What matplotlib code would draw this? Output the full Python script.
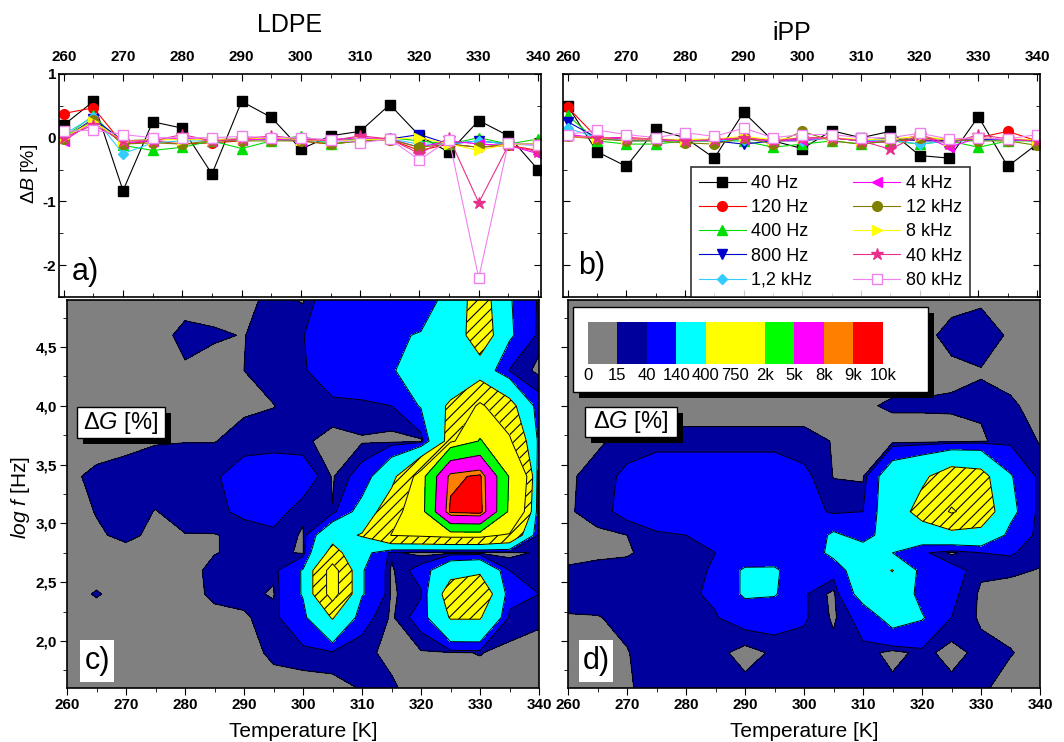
import numpy as np
import matplotlib.pyplot as plt
from matplotlib.patches import Rectangle
from matplotlib.ticker import MultipleLocator

plt.rcParams['font.family'] = ['Liberation Sans', 'DejaVu Sans']
plt.rcParams['mathtext.fontset'] = 'custom'
plt.rcParams['mathtext.rm'] = 'Liberation Sans'
plt.rcParams['mathtext.it'] = 'Liberation Sans:italic'
plt.rcParams['hatch.color'] = 'black'
plt.rcParams['hatch.linewidth'] = 0.8

# temperatures of the dielectric sweeps
temps = [260, 265, 270, 275, 280, 285, 290, 295, 300, 305, 310, 315, 320, 325, 330, 335, 340]
freq_labels = ['40 Hz', '120 Hz', '400 Hz', '800 Hz', '1,2 kHz',
               '4 kHz', '12 kHz', '8 kHz', '40 kHz', '80 kHz']

# delta B [%], one row per frequency
ldpe_dB = [
    [0.2, 0.57, -0.83, 0.25, 0.15, -0.57, 0.57, 0.32, -0.18, 0.03, 0.1, 0.52, 0.03, -0.23, 0.27, 0.03, -0.5],
    [0.38, 0.47, -0.1, -0.05, -0.1, -0.08, -0.05, 0.0, -0.05, -0.1, -0.05, -0.03, -0.2, -0.1, -0.15, -0.12, -0.2],
    [0.0, 0.35, -0.12, -0.2, -0.15, -0.05, -0.17, -0.05, 0.03, -0.1, -0.05, 0.0, -0.05, -0.1, 0.0, -0.1, -0.02],
    [-0.02, 0.3, -0.05, -0.03, -0.02, -0.03, -0.02, -0.02, -0.03, -0.05, -0.02, -0.02, 0.05, -0.1, -0.05, -0.1, -0.1],
    [0.05, 0.33, -0.25, -0.08, -0.05, -0.05, -0.03, -0.03, -0.05, -0.05, -0.05, -0.02, -0.1, -0.1, -0.05, -0.1, -0.12],
    [-0.05, 0.25, -0.08, -0.05, 0.0, -0.05, -0.03, -0.02, -0.05, -0.03, 0.0, -0.02, -0.15, -0.05, -0.1, -0.12, -0.25],
    [-0.02, 0.28, -0.1, -0.08, -0.1, -0.05, -0.05, -0.05, -0.05, -0.1, -0.05, -0.03, -0.15, -0.1, -0.15, -0.1, -0.1],
    [0.0, 0.25, -0.05, -0.03, -0.03, -0.03, -0.02, 0.0, -0.03, -0.05, -0.03, -0.02, 0.0, -0.1, -0.2, -0.1, -0.1],
    [0.0, 0.2, -0.05, -0.05, 0.05, -0.05, -0.02, 0.03, -0.02, -0.05, 0.03, -0.02, -0.25, 0.0, -1.02, -0.12, -0.22],
    [0.1, 0.12, 0.05, 0.0, 0.0, 0.0, 0.02, 0.0, 0.0, -0.03, -0.08, -0.02, -0.35, -0.03, -2.2, -0.08, -0.12],
]
ipp_dB = [
    [0.5, -0.22, -0.45, 0.13, 0.0, -0.32, 0.4, -0.05, -0.17, 0.11, 0.0, 0.1, -0.28, -0.32, 0.33, -0.45, -0.1],
    [0.48, 0.0, 0.0, -0.02, -0.05, -0.05, 0.0, -0.05, -0.05, 0.0, -0.05, -0.05, -0.03, -0.05, 0.0, 0.1, -0.05],
    [0.35, -0.05, -0.1, -0.1, -0.05, -0.05, -0.05, -0.15, -0.1, -0.05, -0.1, -0.05, -0.1, -0.05, -0.15, -0.05, -0.05],
    [0.25, 0.0, -0.05, -0.03, -0.03, -0.05, -0.1, -0.05, -0.03, 0.0, -0.05, 0.0, -0.05, -0.05, -0.03, -0.03, -0.05],
    [0.15, 0.0, -0.05, -0.05, -0.05, -0.05, -0.03, -0.05, -0.05, 0.0, -0.05, -0.03, -0.1, -0.05, -0.05, -0.03, -0.05],
    [0.05, 0.0, 0.0, -0.03, -0.05, -0.03, -0.02, -0.05, -0.03, 0.0, -0.05, -0.08, 0.05, -0.15, 0.0, -0.03, -0.05],
    [0.02, -0.02, -0.05, -0.05, -0.08, -0.1, 0.0, -0.1, 0.1, -0.05, -0.1, -0.05, 0.0, -0.03, -0.05, -0.05, -0.12],
    [0.02, 0.0, -0.02, -0.02, -0.03, -0.02, 0.02, -0.03, 0.0, 0.0, -0.03, -0.02, 0.02, -0.03, 0.0, -0.02, -0.03],
    [0.02, 0.0, -0.02, -0.02, -0.05, -0.03, 0.0, -0.05, 0.0, 0.0, -0.05, -0.18, 0.05, -0.1, 0.05, -0.02, -0.05],
    [0.05, 0.12, 0.05, 0.0, 0.08, 0.02, 0.15, 0.0, 0.05, 0.05, 0.0, 0.0, 0.07, -0.02, 0.0, -0.02, 0.05],
]

# delta G [%] maps, rows = log f from top (4.9) to bottom (1.6)
logf_grid = [4.9, 4.6, 4.3, 4.0, 3.7, 3.4, 3.1, 2.9, 2.75, 2.6, 2.4, 2.2, 1.9, 1.6]
ldpe_dG = [
    [5, 5, 5, 5, 5, 5, 5, 25, 12, 80, 100, 130, 60, 200, 550, 150, 30],
    [5, 5, 5, 5, 22, 18, 14, 30, 38, 90, 110, 120, 150, 180, 600, 160, 25],
    [5, 5, 5, 5, 12, 5, 15, 30, 35, 70, 90, 130, 200, 145, 250, 35, 8],
    [5, 5, 5, 5, 5, 5, 10, 14, 30, 30, 30, 40, 150, 450, 800, 500, 60],
    [5, 5, 8, 13, 14, 14, 25, 30, 20, 5, 12, 5, 5, 500, 2100, 800, 100],
    [10, 20, 25, 30, 35, 35, 60, 60, 70, 12, 60, 300, 900, 8600, 9300, 1800, 15],
    [5, 16, 25, 14, 25, 30, 50, 60, 20, 16, 200, 600, 1000, 9300, 9600, 1500, 10],
    [5, 12, 20, 10, 14, 14, 20, 30, 12, 300, 420, 760, 800, 850, 850, 700, 12],
    [5, 5, 8, 5, 8, 14, 20, 25, 10, 500, 200, 20, 5, 5, 5, 5, 20],
    [5, 5, 5, 5, 5, 22, 25, 20, 150, 900, 150, 10, 60, 300, 350, 40, 30],
    [5, 17, 5, 5, 5, 20, 22, 12, 150, 900, 150, 10, 35, 550, 650, 60, 40],
    [5, 5, 5, 5, 5, 8, 12, 25, 100, 420, 60, 10, 60, 420, 420, 30, 20],
    [5, 5, 5, 5, 5, 5, 5, 20, 25, 30, 20, 10, 12, 12, 16, 8, 5],
    [5, 5, 5, 5, 5, 5, 5, 5, 5, 5, 17, 18, 5, 5, 5, 5, 5],
]
ipp_dG = [
    [5, 5, 5, 5, 5, 5, 5, 5, 5, 5, 5, 5, 5, 8, 12, 5, 5],
    [5, 5, 5, 5, 5, 5, 5, 5, 5, 5, 5, 5, 8, 22, 25, 12, 5],
    [5, 5, 5, 5, 5, 5, 5, 5, 5, 5, 5, 5, 5, 10, 14, 8, 5],
    [5, 5, 5, 5, 5, 5, 5, 5, 5, 5, 12, 18, 18, 18, 18, 18, 8],
    [5, 12, 22, 22, 22, 22, 22, 22, 22, 14, 8, 3, 3, 5, 12, 25, 14],
    [12, 22, 50, 80, 80, 80, 80, 80, 50, 14, 10, 250, 350, 550, 500, 150, 20],
    [12, 25, 55, 90, 90, 90, 90, 90, 70, 30, 40, 250, 500, 780, 600, 180, 15],
    [10, 10, 15, 30, 40, 45, 80, 85, 60, 160, 100, 200, 250, 300, 300, 100, 20],
    [8, 8, 12, 25, 35, 40, 50, 60, 50, 180, 200, 140, 50, 8, 40, 45, 20],
    [18, 25, 25, 30, 35, 42, 160, 160, 50, 60, 250, 410, 80, 60, 20, 18, 14],
    [20, 25, 25, 30, 35, 45, 160, 150, 45, 6, 200, 250, 100, 50, 10, 8, 8],
    [14, 14, 20, 25, 30, 38, 60, 60, 45, 10, 60, 200, 150, 40, 10, 8, 5],
    [8, 8, 14, 25, 25, 25, 3, 20, 25, 25, 30, 3, 25, 3, 25, 16, 8],
    [8, 8, 12, 25, 25, 25, 25, 25, 25, 25, 25, 25, 25, 25, 18, 8, 5],
]

dg_levels = [0, 15, 40, 140, 400, 750, 2000, 5000, 8000, 9000, 10000]
dg_level_labels = ['0', '15', '40', '140', '400', '750', '2k', '5k', '8k', '9k', '10k']
dg_colors = ['#808080', '#00009c', '#0000ff', '#00ffff', '#ffff00',
             '#ffff00', '#00ff00', '#ff00ff', '#ff8000', '#ff0000']
dg_hatches = [None, None, None, None, '///', None, None, None, None, None]

line_colors = ['black', '#ff0000', '#00dd00', '#0000cc', '#33ccff',
               '#ff00ff', '#808000', '#ffff00', '#e8308a', '#f080f0']
markers = ['s', 'o', '^', 'v', 'D', '<', 'o', '>', '*', 's']
msizes = [6.5, 7, 7, 7, 5.5, 7, 7, 7, 9, 6.5]

W, H = 1064, 742
fig = plt.figure(figsize=(W / 100, H / 100), dpi=100)
ax_a = fig.add_axes([59 / W, 1 - 297 / H, 482 / W, 223 / H])
ax_b = fig.add_axes([563 / W, 1 - 297 / H, 477 / W, 223 / H])
ax_c = fig.add_axes([67 / W, 1 - 688 / H, 472 / W, 388 / H])
ax_d = fig.add_axes([568 / W, 1 - 688 / H, 472 / W, 388 / H])

xt = [260, 270, 280, 290, 300, 310, 320, 330, 340]

# top panels: delta B
for ax, data in [(ax_a, ldpe_dB), (ax_b, ipp_dB)]:
    for i in range(len(freq_labels)):
        face = 'white' if i == 9 else line_colors[i]
        ax.plot(temps, data[i], color=line_colors[i], lw=0.8, marker=markers[i],
                ms=msizes[i], mfc=face, mec=line_colors[i], label=freq_labels[i])
    ax.set_xlim(259.2, 340.5)
    ax.set_ylim(-2.5, 1)
    ax.xaxis.tick_top()
    ax.set_xticks(xt, [str(t) for t in xt], fontweight='bold', fontsize=11)
    ax.xaxis.set_minor_locator(MultipleLocator(5))
    ax.yaxis.set_minor_locator(MultipleLocator(0.5))
    ax.tick_params(which='both', direction='in', top=True, bottom=True,
                   left=True, right=True, pad=2)
    ax.tick_params(axis='x', which='major', pad=7)
    ax.tick_params(which='major', length=5)
    ax.tick_params(which='minor', length=3)
    for s in ax.spines.values():
        s.set_linewidth(1.2)

ax_a.set_yticks([1, 0, -1, -2], ['1', '0', '-1', '-2'], fontweight='bold', fontsize=11)
ax_b.set_yticks([1, 0, -1, -2], [])
ax_a.set_ylabel('Δ$\\mathit{B}$ [%]', fontsize=14)
ax_a.yaxis.set_label_coords(-0.04, 0.55)

ax_a.text(0.054, 0.11, 'a)', transform=ax_a.transAxes, fontsize=22,
          ha='center', va='center')
ax_b.text(0.061, 0.14, 'b)', transform=ax_b.transAxes, fontsize=22,
          ha='center', va='center')

h, l = ax_b.get_legend_handles_labels()
leg = ax_b.legend(h, l, ncol=2, loc='lower left', bbox_to_anchor=(0.268, 0.0, 0.585, 0.6),
                  mode='expand', borderaxespad=0, fontsize=13, frameon=True,
                  fancybox=False, edgecolor='black', handlelength=2.6,
                  labelspacing=0.4, columnspacing=0.8, handletextpad=0.3,
                  borderpad=0.45)
leg.get_frame().set_linewidth(1.2)

fig.text(290 / W, 1 - 25 / H, 'LDPE', ha='center', va='center', fontsize=18)
fig.text(792 / W, 1 - 33 / H, 'iPP', ha='center', va='center', fontsize=18)

# bottom panels: delta G maps
TT, LF = np.meshgrid(temps, logf_grid)
yt = [2.0, 2.5, 3.0, 3.5, 4.0, 4.5]
for ax, grid in [(ax_c, ldpe_dG), (ax_d, ipp_dG)]:
    z = np.array(grid, dtype=float)
    ax.contourf(TT, LF, z, levels=dg_levels, colors=dg_colors, hatches=dg_hatches)
    ax.contour(TT, LF, z, levels=dg_levels[1:-1], colors='black', linewidths=0.7)
    ax.set_xlim(260, 340)
    ax.set_ylim(1.6, 4.9)
    ax.set_xticks(xt, [str(t) for t in xt], fontweight='bold', fontsize=11)
    ax.xaxis.set_minor_locator(MultipleLocator(5))
    ax.yaxis.set_minor_locator(MultipleLocator(0.25))
    ax.tick_params(which='both', direction='out', top=False, right=False, pad=2)
    ax.tick_params(which='major', length=5)
    ax.tick_params(which='minor', length=3)
    ax.set_xlabel('Temperature [K]', fontsize=15)
    ax.xaxis.set_label_coords(0.5, -0.088)
    for s in ax.spines.values():
        s.set_linewidth(1.2)

ax_c.set_yticks(yt, [('%.1f' % v).replace('.', ',') for v in yt], fontweight='bold', fontsize=11)
ax_d.set_yticks(yt, [])
ax_c.set_ylabel('$\\mathit{log\\ f}$ [Hz]', fontsize=15)
ax_c.yaxis.set_label_coords(-0.074, 0.49)


def shadow_box(ax, x0, y0, w, h, dx, dy):
    ax.add_patch(Rectangle((x0 + dx, y0 - dy), w, h, transform=ax.transAxes,
                           facecolor='black', edgecolor='none', zorder=5))
    ax.add_patch(Rectangle((x0, y0), w, h, transform=ax.transAxes,
                           facecolor='white', edgecolor='black', lw=1.0, zorder=6))


# "delta G [%]" boxes
shadow_box(ax_c, 0.021, 0.644, 0.187, 0.080, 6 / 472, 6 / 388)
ax_c.text(0.1145, 0.684, 'Δ$\\mathit{G}$ [%]', transform=ax_c.transAxes, fontsize=17,
          ha='center', va='center', zorder=7)
shadow_box(ax_d, 0.036, 0.647, 0.195, 0.077, 6 / 472, 6 / 388)
ax_d.text(0.1335, 0.6855, 'Δ$\\mathit{G}$ [%]', transform=ax_d.transAxes, fontsize=17,
          ha='center', va='center', zorder=7)

# panel letters c) and d)
for ax, x0, txt in [(ax_c, 0.028, 'c)'), (ax_d, 0.023, 'd)')]:
    ax.add_patch(Rectangle((x0, 0.015), 0.072, 0.11, transform=ax.transAxes,
                           facecolor='white', edgecolor='none', zorder=6))
    ax.text(x0 + 0.036, 0.07, txt, transform=ax.transAxes, fontsize=22,
            ha='center', va='center', zorder=7)

# colour scale box in panel d
shadow_box(ax_d, 0.011, 0.763, 0.752, 0.219, 6 / 472, 6 / 388)
sw_x0, sw_w = 0.042, 0.0625
for i, c in enumerate(dg_colors):
    ax_d.add_patch(Rectangle((sw_x0 + i * sw_w, 0.835), sw_w, 0.108, transform=ax_d.transAxes,
                             facecolor=c, edgecolor='none', hatch=dg_hatches[i], zorder=7))
for i, lab in enumerate(dg_level_labels):
    ax_d.text(sw_x0 + i * sw_w, 0.805, lab, transform=ax_d.transAxes, fontsize=12,
              ha='center', va='center', zorder=8)

fig.savefig('out.png', dpi=100)
